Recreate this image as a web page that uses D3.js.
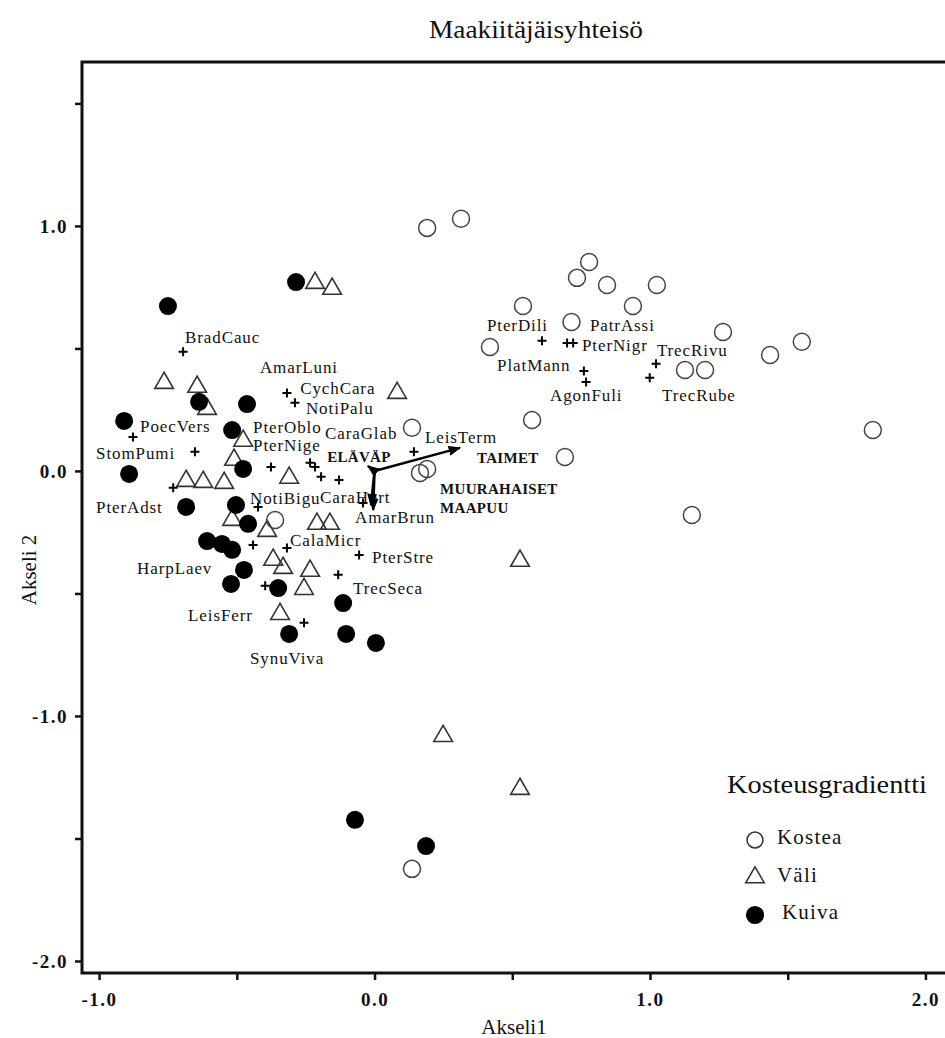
<!DOCTYPE html>
<html>
<head>
<meta charset="utf-8">
<script src="https://cdn.jsdelivr.net/npm/d3@7"></script>
<style>
  body { margin: 0; background: #fff; overflow: hidden; }
  svg { display: block; }
  text { font-family: "Liberation Serif", "DejaVu Serif", serif; fill: #111; }
</style>
</head>
<body>
<svg id="chart" width="945" height="1038"></svg>
<script>
// sample scores, grouped by moisture class
const kostea = [
  [0.191, 0.992], [0.314, 1.029], [0.779, 0.853], [0.735, 0.788], [0.844, 0.759],
  [1.025, 0.759], [0.539, 0.673], [0.938, 0.673], [0.715, 0.608], [1.265, 0.567],
  [0.419, 0.506], [1.436, 0.473], [1.551, 0.527], [1.127, 0.412], [1.200, 0.412],
  [0.572, 0.208], [0.136, 0.176], [1.809, 0.167], [0.691, 0.057], [0.165, -0.008],
  [0.191, 0.008], [1.152, -0.180], [-0.361, -0.200], [0.136, -1.624]
];
const vali = [
  [-0.216, 0.771], [-0.154, 0.747], [-0.764, 0.363], [-0.644, 0.347], [-0.608, 0.257],
  [0.082, 0.322], [-0.477, 0.127], [-0.510, 0.049], [-0.684, -0.037], [-0.622, -0.041],
  [-0.546, -0.045], [-0.310, -0.024], [-0.517, -0.196], [-0.390, -0.241], [-0.209, -0.212],
  [-0.162, -0.212], [-0.368, -0.359], [-0.332, -0.392], [-0.234, -0.404], [-0.256, -0.478],
  [-0.343, -0.580], [0.528, -0.363], [0.249, -1.078], [0.528, -1.294]
];
const kuiva = [
  [-0.285, 0.771], [-0.750, 0.673], [-0.637, 0.282], [-0.463, 0.273], [-0.909, 0.204],
  [-0.517, 0.167], [-0.477, 0.008], [-0.891, -0.012], [-0.684, -0.147], [-0.503, -0.139],
  [-0.459, -0.216], [-0.608, -0.286], [-0.554, -0.298], [-0.517, -0.322], [-0.474, -0.404],
  [-0.521, -0.461], [-0.350, -0.478], [-0.114, -0.539], [-0.310, -0.665], [-0.103, -0.665],
  [0.005, -0.702], [-0.071, -1.424], [0.187, -1.531]
];

// species scores (plus signs)
const species = [
  [-0.695, 0.486], [-0.318, 0.318], [-0.289, 0.278], [-0.877, 0.139], [-0.652, 0.078],
  [-0.376, 0.016], [-0.234, 0.033], [-0.216, 0.016], [-0.194, -0.024], [-0.129, -0.037],
  [-0.731, -0.069], [-0.423, -0.147], [-0.042, -0.131], [0.143, 0.078], [-0.441, -0.302],
  [-0.318, -0.314], [-0.056, -0.343], [-0.132, -0.424], [-0.397, -0.469], [-0.256, -0.620],
  [0.608, 0.531], [0.699, 0.522], [0.721, 0.522], [0.760, 0.408], [0.768, 0.363],
  [1.022, 0.437], [0.999, 0.380]
];
const speciesLabels = [
  ["BradCauc", -0.688, 0.547], ["AmarLuni", -0.416, 0.424], ["CychCara", -0.270, 0.339],
  ["NotiPalu", -0.249, 0.257], ["PoecVers", -0.851, 0.184], ["StomPumi", -1.011, 0.073],
  ["PterOblo", -0.441, 0.180], ["PterNige", -0.441, 0.106], ["CaraGlab", -0.180, 0.155],
  ["LeisTerm", 0.183, 0.139], ["PterAdst", -1.011, -0.147], ["NotiBigu", -0.452, -0.110],
  ["CaraHort", -0.198, -0.106], ["AmarBrun", -0.071, -0.188], ["CalaMicr", -0.307, -0.282],
  ["PterStre", -0.009, -0.351], ["HarpLaev", -0.862, -0.396], ["TrecSeca", -0.078, -0.478],
  ["LeisFerr", -0.677, -0.588], ["SynuViva", -0.452, -0.763], ["PterDili", 0.408, 0.596],
  ["PatrAssi", 0.782, 0.596], ["PterNigr", 0.753, 0.514], ["PlatMann", 0.445, 0.433],
  ["AgonFuli", 0.637, 0.310], ["TrecRivu", 1.025, 0.494], ["TrecRube", 1.044, 0.310]
];

// environmental vectors: tip and label position
const vectors = [
  ["ELÄVÄP", -0.024, 0.020, -0.172, 0.057],
  ["TAIMET", 0.310, 0.094, 0.372, 0.053],
  ["MUURAHAISET", -0.005, -0.159, 0.238, -0.073],
  ["MAAPUU", -0.013, -0.139, 0.238, -0.151]
];

const xTicks = [-1, -0.5, 0, 0.5, 1, 1.5, 2];
const yTicks = [-2, -1.5, -1, -0.5, 0, 0.5, 1, 1.5];
const legendItems = ["Kostea", "Väli", "Kuiva"];

const svg = d3.select("#chart");

const x = d3.scaleLinear().domain([-1.062, 2.1]).range([82, 953]);
const y = d3.scaleLinear().domain([-2.049, 1.669]).range([973, 62]);

const fmt = d => Number.isInteger(d) ? d.toFixed(1) : "";

// title
svg.append("text")
    .attr("x", 536).attr("y", 38)
    .attr("text-anchor", "middle")
    .attr("textLength", 214).attr("lengthAdjust", "spacingAndGlyphs")
    .style("font-size", "25px")
    .text("Maakiitäjäisyhteisö");

// axes
const xAxis = svg.append("g")
    .attr("transform", "translate(0," + y.range()[0] + ")")
    .call(d3.axisBottom(x).tickValues(xTicks).tickFormat(fmt).tickSize(7).tickPadding(13));
const yAxis = svg.append("g")
    .attr("transform", "translate(" + x.range()[0] + ",0)")
    .call(d3.axisLeft(y).tickValues(yTicks).tickFormat(fmt).tickSize(7).tickPadding(7));

[xAxis, yAxis].forEach(g => {
  g.select(".domain").remove();
  g.selectAll(".tick line").attr("stroke", "#111").attr("stroke-width", 2.5);
  g.selectAll(".tick text")
      .style("font-family", "'Liberation Serif', serif")
      .style("font-size", "19px")
      .style("font-weight", "bold")
      .style("letter-spacing", "1.5px")
      .attr("fill", "#111");
});

// frame
svg.append("path")
    .attr("d", `M${x.range()[0]},${y.range()[0]}V${y.range()[1]}H${x.range()[1]}V${y.range()[0]}Z`)
    .attr("fill", "none")
    .attr("stroke", "#111")
    .attr("stroke-width", 3);

svg.append("text")
    .attr("x", 514).attr("y", 1034)
    .attr("text-anchor", "middle")
    .style("font-size", "21px")
    .text("Akseli1");

svg.append("text")
    .attr("transform", "translate(36,570) rotate(-90)")
    .attr("text-anchor", "middle")
    .style("font-size", "21px")
    .text("Akseli 2");

// symbols
const tri = d3.symbol().type(d3.symbolTriangle).size(150);

svg.append("g").selectAll("path")
    .data(vali)
  .join("path")
    .attr("d", tri)
    .attr("transform", d => `translate(${x(d[0])},${y(d[1]) + 1})`)
    .attr("fill", "none")
    .attr("stroke", "#333")
    .attr("stroke-width", 1.6);

svg.append("g").selectAll("circle")
    .data(kuiva)
  .join("circle")
    .attr("cx", d => x(d[0]))
    .attr("cy", d => y(d[1]))
    .attr("r", 9)
    .attr("fill", "#000");

svg.append("g").selectAll("circle")
    .data(kostea)
  .join("circle")
    .attr("cx", d => x(d[0]))
    .attr("cy", d => y(d[1]))
    .attr("r", 8.5)
    .attr("fill", "none")
    .attr("stroke", "#444")
    .attr("stroke-width", 1.5);

// species crosses
svg.append("g").selectAll("path")
    .data(species)
  .join("path")
    .attr("d", d => {
      const cx = x(d[0]), cy = y(d[1]);
      return `M${cx - 4.5},${cy}H${cx + 4.5}M${cx},${cy - 4.5}V${cy + 4.5}`;
    })
    .attr("stroke", "#000")
    .attr("stroke-width", 2);

svg.append("g").selectAll("text")
    .data(speciesLabels)
  .join("text")
    .attr("x", d => x(d[1]))
    .attr("y", d => y(d[2]))
    .attr("dy", "0.35em")
    .style("font-size", "17px")
    .style("letter-spacing", "0.9px")
    .text(d => d[0]);

// environmental arrows
svg.append("defs").append("marker")
    .attr("id", "head")
    .attr("viewBox", "0 0 10 10")
    .attr("refX", 9).attr("refY", 5)
    .attr("markerWidth", 5).attr("markerHeight", 5)
    .attr("orient", "auto")
  .append("path")
    .attr("d", "M0,1L10,5L0,9Z")
    .attr("fill", "#000");

svg.append("g").selectAll("line")
    .data(vectors)
  .join("line")
    .attr("x1", x(0)).attr("y1", y(0))
    .attr("x2", d => x(d[1]))
    .attr("y2", d => y(d[2]))
    .attr("stroke", "#000")
    .attr("stroke-width", 2.5)
    .attr("marker-end", "url(#head)");

svg.append("g").selectAll("text")
    .data(vectors)
  .join("text")
    .attr("x", d => x(d[3]))
    .attr("y", d => y(d[4]))
    .attr("dy", "0.35em")
    .style("font-size", "15px")
    .style("font-weight", "bold")
    .style("letter-spacing", "0.3px")
    .text(d => d[0]);

// legend
const legend = svg.append("g").attr("transform", "translate(727,0)");
legend.append("text")
    .attr("x", 0).attr("y", 793)
    .attr("textLength", 200).attr("lengthAdjust", "spacingAndGlyphs")
    .style("font-size", "25px")
    .text("Kosteusgradientti");

const item = legend.selectAll("g.item")
    .data(legendItems)
  .join("g")
    .attr("class", "item")
    .attr("transform", (d, i) => `translate(0,${840 + i * 37.5})`);

item.append("path")
    .attr("d", (d, i) => i === 1 ? tri() : d3.symbol().type(d3.symbolCircle).size(i === 0 ? 200 : 260)())
    .attr("transform", "translate(28,0)")
    .attr("fill", (d, i) => i === 2 ? "#000" : "none")
    .attr("stroke", (d, i) => i === 2 ? "none" : "#333")
    .attr("stroke-width", 1.5);

item.append("text")
    .attr("x", (d, i) => i === 2 ? 55 : 50).attr("y", 0)
    .attr("dy", "0.2em")
    .style("font-size", "21px")
    .style("letter-spacing", "1.2px")
    .text(d => d);
</script>
</body>
</html>
